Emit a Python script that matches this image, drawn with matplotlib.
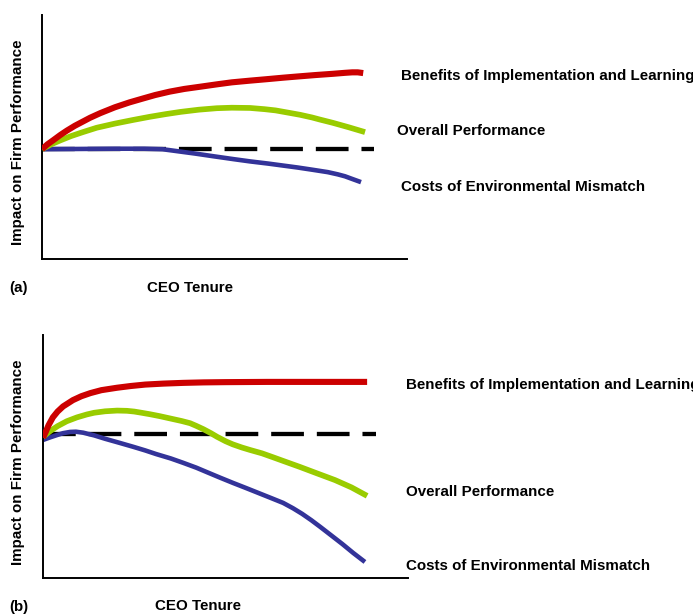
import matplotlib.pyplot as plt

plt.rcParams['font.family'] = ["Liberation Sans", "DejaVu Sans"]
plt.rcParams['font.size'] = 10.9
plt.rcParams['font.weight'] = "bold"

W, H = 693, 616

# panel (a): tenure 0..100, impact relative to baseline
a_red_x = [0, 1.5, 3, 5, 6.8, 9, 13.2, 16, 20, 24, 27.7, 31, 35, 39, 43.3, 48, 52, 57, 61.6,
           66, 70, 75, 79.7, 83, 85, 86.5, 88]
a_red_y = [0, 2.0, 3.6, 5.8, 7.6, 9.6, 12.9, 14.8, 17.2, 19.2, 20.8, 22.2, 23.6, 24.7, 25.6,
           26.6, 27.4, 28.1, 28.7, 29.3, 29.8, 30.4, 30.9, 31.3, 31.5, 31.5, 31.2]
a_green_x = [0, 2.5, 5, 8, 11.2, 15, 20, 25, 29.6, 34, 38, 43, 47.9, 52, 57, 61, 64, 67,
             70.7, 74, 76, 79.7, 84, 88.5]
a_green_y = [0, 2.0, 3.6, 5.4, 7.0, 8.8, 10.5, 12.0, 13.3, 14.4, 15.3, 16.2, 16.8, 17.0, 16.9,
             16.4, 15.9, 15.1, 14.1, 13.0, 12.2, 10.8, 9.0, 7.0]
a_blue_x = [0, 10, 20, 28, 33, 37, 42, 47, 52.6, 57, 62, 66, 70, 74, 78.3, 81, 83, 85, 87.4]
a_blue_y = [0, 0.1, 0.2, 0.2, 0, -0.8, -1.8, -2.9, -4.1, -5.0, -5.9, -6.7, -7.5, -8.4, -9.4,
            -10.3, -11.1, -12.2, -13.5]
a_base_x = [0, 91]
a_base_y = [0, 0]

# panel (b)
b_red_x = [0, 0.8, 1.5, 2.7, 4, 5.5, 8.2, 10.5, 13, 16, 20.3, 24, 28, 33, 38.4, 44, 50,
           61.4, 75, 88.8]
b_red_y = [-1.6, 1.0, 3.5, 6.8, 9.2, 11.3, 13.9, 15.5, 16.8, 18.0, 19.0, 19.7, 20.3, 20.7, 21.0,
           21.2, 21.3, 21.4, 21.4, 21.4]
b_green_x = [0, 2, 4, 6.5, 9.3, 12, 14, 17, 20.3, 23, 25, 27, 29.3, 32, 35, 38, 40.3, 42,
             44, 46, 47.7, 50, 52, 54.5, 56.7, 60, 63, 66.5, 70.4, 75, 80, 84.5, 88.8]
b_green_y = [-1.2, 1.2, 3.2, 5.2, 6.8, 8.0, 8.7, 9.3, 9.6, 9.5, 9.2, 8.7, 8.1, 7.3, 6.3,
             5.3, 4.4, 3.3, 1.9, 0.3, -1.2, -3.0, -4.3, -5.6, -6.6, -8.0, -9.6, -11.5,
             -13.6, -16.2, -19.0, -22.0, -25.5]
b_blue_x = [0, 2, 4, 5.5, 7.4, 9, 11, 14, 17, 21, 24.7, 28, 31, 35, 38.4, 42, 45, 48.5,
            52.1, 55.5, 59, 62.5, 65.8, 68.5, 71, 73.5, 75.9, 79, 82, 85, 88.2]
b_blue_y = [-2.5, -1.4, -0.4, 0.3, 0.8, 0.9, 0.5, -0.6, -2.0, -3.7, -5.3, -6.8, -8.3, -10.1,
            -11.9, -13.9, -15.8, -18.0, -20.2, -22.2, -24.3, -26.4, -28.4, -30.6, -32.9,
            -35.5, -38.2, -41.8, -45.3, -49.0, -52.7]
b_base_x = [0, 91.2]
b_base_y = [0, 0]

labels = ["Benefits of Implementation and Learning", "Overall Performance",
          "Costs of Environmental Mismatch"]

red, green, blue = "#cc0000", "#99cc00", "#333399"

fig = plt.figure(figsize=(W / 100, H / 100), dpi=100)


def panel(left, top, bottom, ylim, base, red_xy, green_xy, blue_xy):
    ax = fig.add_axes([left / W, 1 - bottom / H, 365 / W, (bottom - top) / H])
    ax.plot(*base, color="black", lw=3.1, dashes=(7.6, 3.0), zorder=1)
    ax.plot(*blue_xy, color=blue, lw=3.3, solid_capstyle="butt",
            solid_joinstyle="round", zorder=2)
    ax.plot(*green_xy, color=green, lw=4.1, solid_capstyle="butt",
            solid_joinstyle="round", zorder=3)
    ax.plot(*red_xy, color=red, lw=4.4, solid_capstyle="butt",
            solid_joinstyle="round", zorder=4)
    ax.set_xlim(0, 100)
    ax.set_ylim(*ylim)
    ax.spines["top"].set_visible(False)
    ax.spines["right"].set_visible(False)
    ax.spines["left"].set_linewidth(1.4)
    ax.spines["bottom"].set_linewidth(1.4)
    ax.set_xticks([])
    ax.set_yticks([])
    return ax


panel(42, 15, 259, (-45, 55), (a_base_x, a_base_y),
      (a_red_x, a_red_y), (a_green_x, a_green_y), (a_blue_x, a_blue_y))
panel(43, 335, 578, (-59.3, 40.7), (b_base_x, b_base_y),
      (b_red_x, b_red_y), (b_green_x, b_green_y), (b_blue_x, b_blue_y))


def txt(x, y, s, **kw):
    fig.text(x / W, 1 - y / H, s, va="center", **kw)


# panel (a) texts
txt(401, 76, labels[0])
txt(397, 131, labels[1])
txt(401, 187, labels[2])
txt(18, 142, "Impact on Firm Performance", rotation=90, ha="center")
txt(9, 288, "(a)")
txt(190, 288, "CEO Tenure", ha="center")

# panel (b) texts
txt(406, 385, labels[0])
txt(406, 492, labels[1])
txt(406, 566, labels[2])
txt(18, 462, "Impact on Firm Performance", rotation=90, ha="center")
txt(9, 607, "(b)")
txt(198, 606, "CEO Tenure", ha="center")

fig.savefig("out.png", dpi=100)
